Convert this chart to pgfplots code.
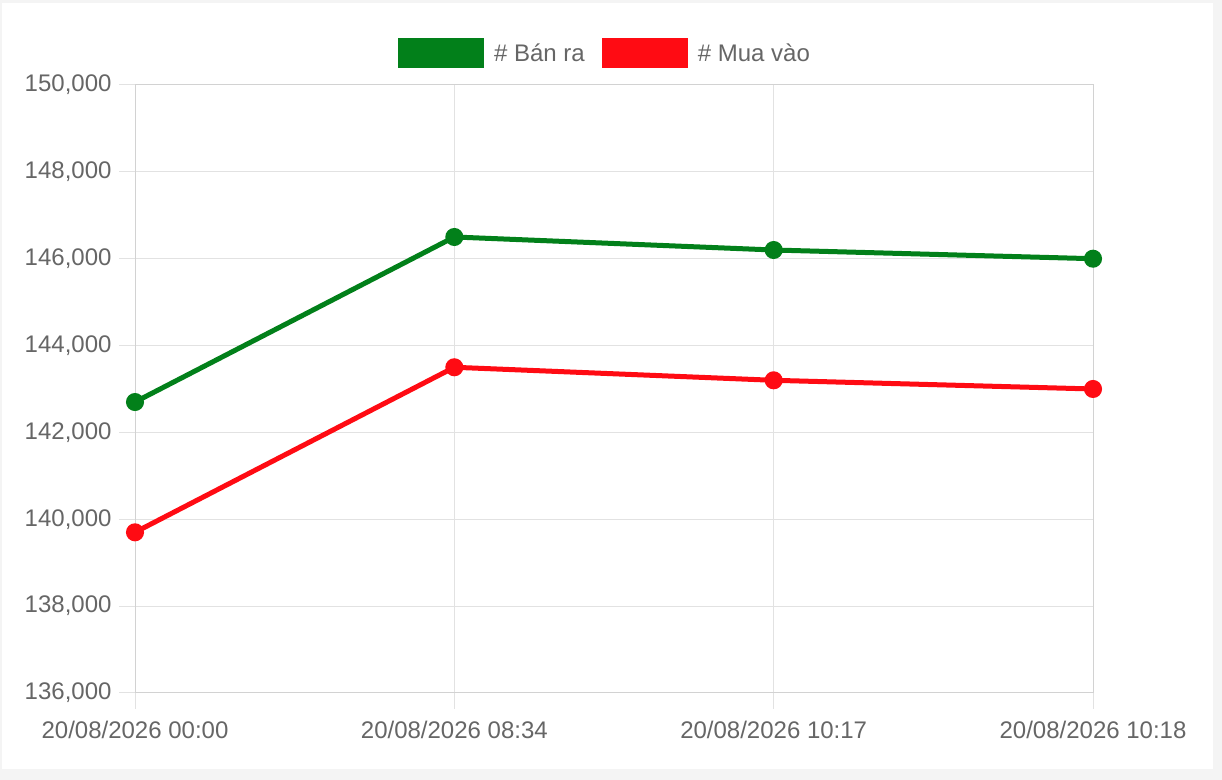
\documentclass[border=0pt]{standalone}
\usepackage{pgfplots}
\pgfplotsset{compat=1.18}
\usepackage{fontspec}
\setmainfont{Liberation Sans}
\definecolor{bgc}{HTML}{F4F4F4}
\definecolor{gridc}{HTML}{E2E2E2}
\definecolor{axisc}{HTML}{D2D2D2}
\definecolor{txt}{HTML}{666666}
\definecolor{sellc}{RGB}{2,128,26}
\definecolor{buyc}{RGB}{255,11,19}
\begin{document}
\begin{tikzpicture}[x=1bp,y=1bp]
\fill[bgc] (0,0) rectangle (1222,780);
\fill[white] (2,11) rectangle (1213,777);
\begin{axis}[
  at={(135bp,87bp)}, anchor=south west,
  scale only axis, width=958bp, height=608bp,
  xmin=0, xmax=3, ymin=136000, ymax=150000,
  xtick={0,1,2,3},
  xticklabels={20/08/2026 00:00,20/08/2026 08:34,20/08/2026 10:17,20/08/2026 10:18},
  ytick={136000,138000,140000,142000,144000,146000,148000,150000},
  yticklabels={{136,000},{138,000},{140,000},{142,000},{144,000},{146,000},{148,000},{150,000}},
  scaled y ticks=false,
  xtick pos=bottom, ytick pos=left,
  tick align=outside, major tick length=16bp,
  tick style={gridc, line width=1bp},
  grid=major, grid style={gridc, line width=1bp},
  axis line style={axisc, line width=1bp},
  ticklabel style={font=\fontsize{24bp}{28bp}\selectfont, text=txt},
  xticklabel style={yshift=-9bp},
  yticklabel style={xshift=-4bp},
  clip=false,
  legend style={draw=none, fill=none, at={(0.4906,1.0526)}, anchor=center,
    legend columns=2, /tikz/every even column/.style={column sep=15bp},
    font=\fontsize{24bp}{28bp}\selectfont, text=txt},
  legend image code/.code={\fill[#1, draw=none] (0bp,-15bp) rectangle (86bp,15bp);},
]
\addplot[sellc, line width=5bp, mark=*, mark size=6.5bp, mark options={solid}] coordinates {
  (0,142700) (1,146500) (2,146200) (3,146000)};
\addlegendentry{\hspace*{8bp}\# Bán ra}
\addplot[buyc, line width=5bp, mark=*, mark size=6.5bp, mark options={solid}] coordinates {
  (0,139700) (1,143500) (2,143200) (3,143000)};
\addlegendentry{\hspace*{8bp}\# Mua vào}
\end{axis}
\end{tikzpicture}
\end{document}
